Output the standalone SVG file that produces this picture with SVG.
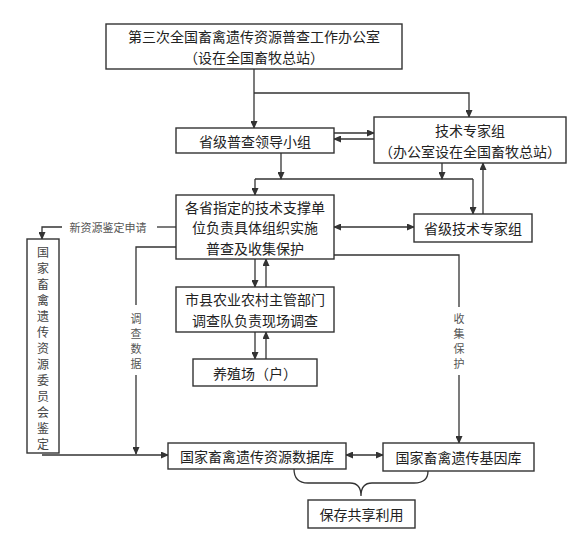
<svg xmlns="http://www.w3.org/2000/svg" width="579" height="549" viewBox="0 0 579 549">
<style>
.box{fill:#fff;stroke:#333;stroke-width:1.4}
.t{font-family:"Noto Sans CJK SC","Noto Sans",sans-serif;font-size:14px;fill:#222;text-anchor:middle;dominant-baseline:central}
.s{font-family:"Noto Sans CJK SC","Noto Sans",sans-serif;font-size:11px;fill:#555;text-anchor:middle;dominant-baseline:central}
.v{font-family:"Noto Sans CJK SC","Noto Sans",sans-serif;font-size:12px;fill:#444;text-anchor:middle;dominant-baseline:central}
.c{fill:none;stroke:#333;stroke-width:1.3}
.a{marker-end:url(#ah)}
.d{marker-start:url(#ah);marker-end:url(#ah)}
</style>
<defs>
<marker id="ah" markerUnits="userSpaceOnUse" markerWidth="8" markerHeight="7" refX="7" refY="3.5" orient="auto-start-reverse" viewBox="0 0 8 7">
<path d="M0,0 L8,3.5 L0,7 z" fill="#333"/>
</marker>
</defs>
<rect width="579" height="549" fill="#fff"/>
<g id="connectors">
<path class="c a" d="M254,69 V128"/>
<path class="c a" d="M254,93 H469 V117"/>
<path class="c a" d="M334,133 H374"/>
<path class="c a" d="M374,139 H334"/>
<path class="c a" d="M281,153 V179"/>
<path class="c a" d="M442,163 V179"/>
<path class="c" d="M255,179 H473"/>
<path class="c a" d="M255,179 V195"/>
<path class="c a" d="M473,179 V214"/>
<path class="c a" d="M483,214 V163"/>
<path class="c d" d="M334,227 H414"/>
<path class="c" d="M334,255 H459 V307"/>
<path class="c a" d="M459,375 V443"/>
<path class="c" d="M176,227 H157"/>
<path class="c a" d="M62,227 H42 V239"/>
<path class="c" d="M176,247 H136 V305"/>
<path class="c a" d="M136,375 V454"/>
<path class="c a" d="M42,455 H168"/>
<path class="c a" d="M255,259 V287"/>
<path class="c a" d="M266,287 V259"/>
<path class="c a" d="M255,332 V359"/>
<path class="c a" d="M266,359 V332"/>
<path class="c d" d="M346,455 H383"/>
<path class="c" d="M294,469 Q294,483 308,483 H350 Q361,483 361,496 Q361,483 372,483 H414 Q428,483 428,471"/>
<text class="s" x="108" y="227">新资源鉴定申请</text>
<text class="s" x="136" y="318"><tspan x="136" y="318">调</tspan><tspan x="136" y="333">查</tspan><tspan x="136" y="348">数</tspan><tspan x="136" y="363">据</tspan></text>
<text class="s" x="459" y="318"><tspan x="459" y="318">收</tspan><tspan x="459" y="333">集</tspan><tspan x="459" y="348">保</tspan><tspan x="459" y="363">护</tspan></text>
</g>
<g id="office">
<rect class="box" x="106" y="24" width="296" height="45"/>
<text class="t" x="254" y="36"><tspan x="254" y="36">第三次全国畜禽遗传资源普查工作办公室</tspan><tspan x="254" y="57">（设在全国畜牧总站）</tspan></text>
</g>
<g id="provincial-leading">
<rect class="box" x="176" y="128" width="158" height="25"/>
<text class="t" x="255" y="140.5">省级普查领导小组</text>
</g>
<g id="tech-expert">
<rect class="box" x="374" y="117" width="192" height="46"/>
<text class="t" x="470" y="130"><tspan x="470" y="130">技术专家组</tspan><tspan x="470" y="151">（办公室设在全国畜牧总站）</tspan></text>
</g>
<g id="support-units">
<rect class="box" x="176" y="195" width="158" height="64"/>
<text class="t" x="255" y="206.5"><tspan x="255" y="206.5">各省指定的技术支撑单</tspan><tspan x="255" y="227">位负责具体组织实施</tspan><tspan x="255" y="247.5">普查及收集保护</tspan></text>
</g>
<g id="provincial-expert">
<rect class="box" x="414" y="214" width="118" height="28"/>
<text class="t" x="473" y="228">省级技术专家组</text>
</g>
<g id="committee">
<rect class="box" x="27" y="239" width="32" height="214"/>
<text class="v" x="43" y="251"><tspan x="43" y="251">国</tspan><tspan x="43" y="267">家</tspan><tspan x="43" y="283">畜</tspan><tspan x="43" y="299">禽</tspan><tspan x="43" y="315">遗</tspan><tspan x="43" y="331">传</tspan><tspan x="43" y="347">资</tspan><tspan x="43" y="363">源</tspan><tspan x="43" y="379">委</tspan><tspan x="43" y="395">员</tspan><tspan x="43" y="411">会</tspan><tspan x="43" y="427">鉴</tspan><tspan x="43" y="443">定</tspan></text>
</g>
<g id="county">
<rect class="box" x="176" y="287" width="158" height="45"/>
<text class="t" x="255" y="299"><tspan x="255" y="299">市县农业农村主管部门</tspan><tspan x="255" y="320">调查队负责现场调查</tspan></text>
</g>
<g id="farm">
<rect class="box" x="193" y="359" width="124" height="27"/>
<text class="t" x="255" y="372.5">养殖场（户）</text>
</g>
<g id="database">
<rect class="box" x="168" y="443" width="178" height="26"/>
<text class="t" x="257" y="456">国家畜禽遗传资源数据库</text>
</g>
<g id="genebank">
<rect class="box" x="383" y="443" width="151" height="28"/>
<text class="t" x="458.5" y="457">国家畜禽遗传基因库</text>
</g>
<g id="share">
<rect class="box" x="308" y="500" width="107" height="28"/>
<text class="t" x="361.5" y="514">保存共享利用</text>
</g>
</svg>
